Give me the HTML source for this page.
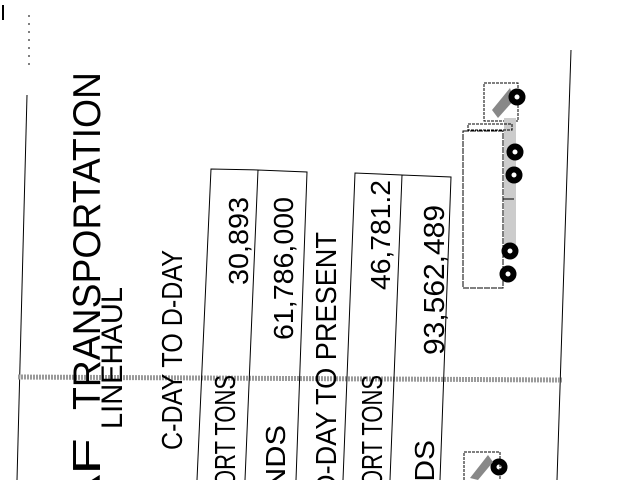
<!DOCTYPE html>
<html><head><meta charset="utf-8"><style>
html,body{margin:0;padding:0;background:#fff;width:640px;height:480px;overflow:hidden}
svg{display:block}
text{font-family:"Liberation Sans",Arial,sans-serif;fill:#000}
</style></head><body>
<svg width="640" height="480" viewBox="0 0 640 480" xmlns="http://www.w3.org/2000/svg">
<rect width="640" height="480" fill="#fff"/>
<line x1="3" y1="5" x2="3" y2="20" stroke="#000" stroke-width="2"/>
<line x1="29" y1="15" x2="29" y2="70" stroke="#000" stroke-width="1" stroke-dasharray="2 6"/>
<line x1="27" y1="95" x2="17" y2="480" stroke="#000" stroke-width="1"/>
<line x1="571" y1="50" x2="557" y2="480" stroke="#000" stroke-width="1"/>
<line x1="18" y1="377" x2="562" y2="380" stroke="#9a9a9a" stroke-width="5" stroke-dasharray="2 1"/>
<polyline points="197,480 211,169 258,170" fill="none" stroke="#000"/>
<polyline points="245,480 258,170 307,172 296,480" fill="none" stroke="#000"/>
<polyline points="343,480 355,173 402,175" fill="none" stroke="#000"/>
<polyline points="390,480 402,175 451,177 440,480" fill="none" stroke="#000"/>
<text transform="translate(100,72) rotate(-90)" text-anchor="end" font-size="39" textLength="338" lengthAdjust="spacingAndGlyphs">TRANSPORTATION</text>
<text transform="translate(100,515) rotate(-90)" text-anchor="start" font-size="39" textLength="77" lengthAdjust="spacingAndGlyphs">AF</text>
<text transform="translate(122,287) rotate(-90)" text-anchor="end" font-size="30" textLength="142" lengthAdjust="spacingAndGlyphs">LINEHAUL</text>
<text transform="translate(182,250) rotate(-90)" text-anchor="end" font-size="29" textLength="200" lengthAdjust="spacingAndGlyphs">C-DAY TO D-DAY</text>
<text transform="translate(235,375) rotate(-90)" text-anchor="end" font-size="29" textLength="112" lengthAdjust="spacingAndGlyphs">ORT TONS</text>
<text transform="translate(285,425) rotate(-90)" text-anchor="end" font-size="28" textLength="65" lengthAdjust="spacingAndGlyphs">NDS</text>
<text transform="translate(248,197) rotate(-90)" text-anchor="end" font-size="28" textLength="88" lengthAdjust="spacingAndGlyphs">30,893</text>
<text transform="translate(293,197) rotate(-90)" text-anchor="end" font-size="28" textLength="143" lengthAdjust="spacingAndGlyphs">61,786,000</text>
<text transform="translate(336,232) rotate(-90)" text-anchor="end" font-size="29" textLength="262" lengthAdjust="spacingAndGlyphs">D-DAY TO PRESENT</text>
<text transform="translate(382,375) rotate(-90)" text-anchor="end" font-size="29" textLength="112" lengthAdjust="spacingAndGlyphs">ORT TONS</text>
<text transform="translate(390,180) rotate(-90)" text-anchor="end" font-size="28" textLength="110" lengthAdjust="spacingAndGlyphs">46,781.2</text>
<text transform="translate(444,205) rotate(-90)" text-anchor="end" font-size="29" textLength="150" lengthAdjust="spacingAndGlyphs">93,562,489</text>
<text transform="translate(434,440) rotate(-90)" text-anchor="end" font-size="28" textLength="50" lengthAdjust="spacingAndGlyphs">IDS</text>
<rect x="484" y="83" width="34" height="38" fill="none" stroke="#000" stroke-dasharray="3 1"/>
<path d="M492 110 L510 88 L514 100 L498 118Z" fill="#888"/>
<rect x="504" y="118" width="12" height="130" fill="#ccc"/>
<rect x="468" y="124" width="44" height="6" fill="none" stroke="#000" stroke-dasharray="3 1"/>
<rect x="463" y="131" width="40" height="157" fill="none" stroke="#000" stroke-dasharray="6 1"/>
<line x1="503" y1="199" x2="514" y2="199" stroke="#000"/>
<g fill="#fff" stroke="#000" stroke-width="6">
<circle cx="517" cy="97" r="5.5"/>
<circle cx="515" cy="152" r="5.5"/>
<circle cx="514" cy="175" r="5.5"/>
<circle cx="510" cy="251" r="5.5"/>
<circle cx="508" cy="274" r="5.5"/>
<circle cx="499" cy="467" r="5.5"/>
</g>
<rect x="464" y="452" width="36" height="30" fill="none" stroke="#000" stroke-dasharray="3 1"/>
<path d="M470 478 L488 455 L493 462 L478 480Z" fill="#888"/>
</svg>
</body></html>
